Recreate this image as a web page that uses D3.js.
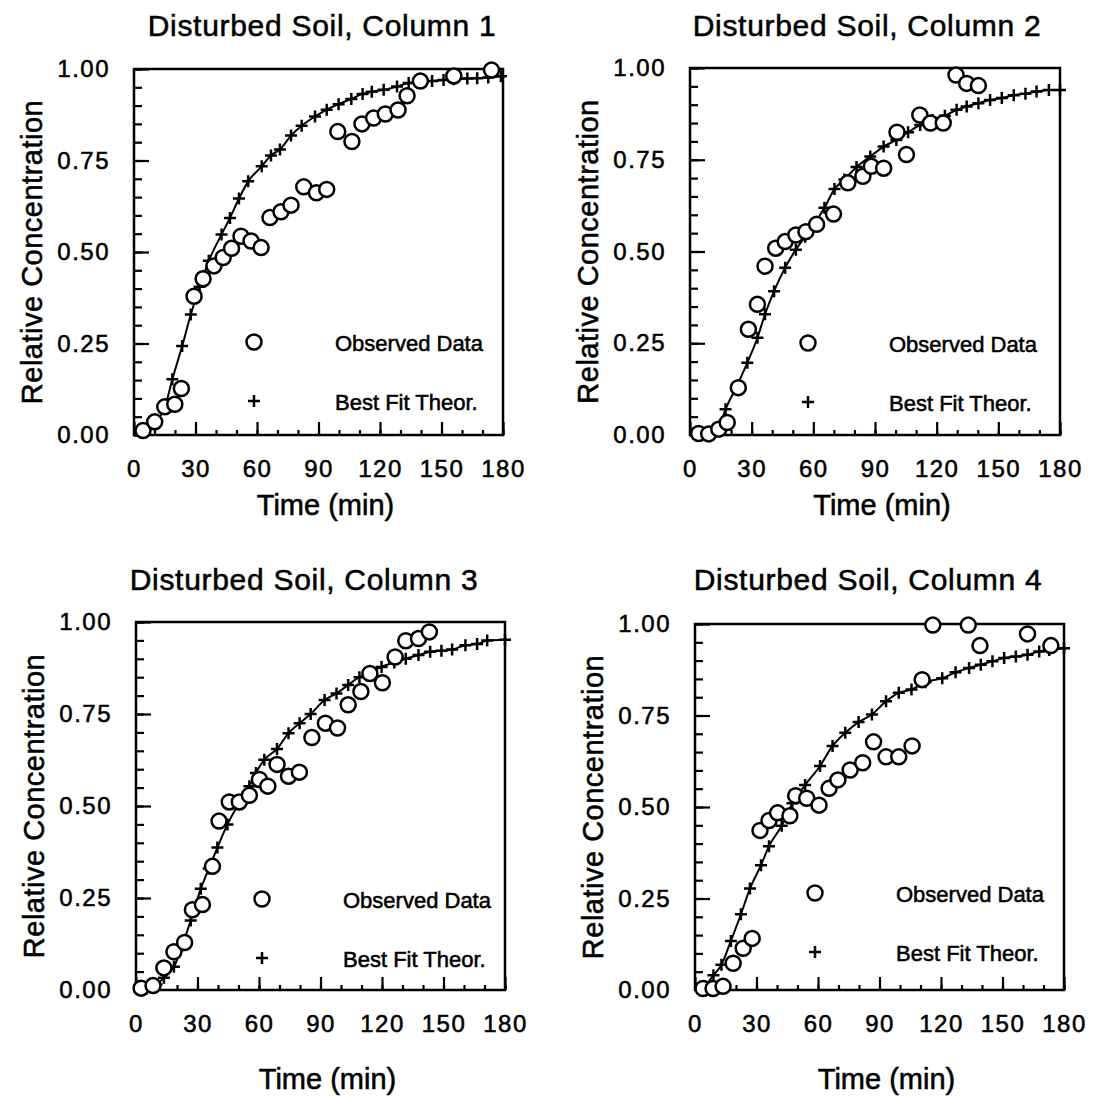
<!DOCTYPE html>
<html>
<head>
<meta charset="utf-8">
<script src="https://cdn.jsdelivr.net/npm/d3@7"></script>
<style>
  body { margin: 0; background: #fff; }
  /* scanned lettering is heavier than plain Liberation Sans */
  svg text { stroke: #000; stroke-width: 0.55px; }
</style>
</head>
<body>
<div id="canvas"></div>
<script>
"use strict"

/* chart data */
let titles = ["Disturbed Soil, Column 1", "Disturbed Soil, Column 2",
              "Disturbed Soil, Column 3", "Disturbed Soil, Column 4"];
let xTicks = [0, 30, 60, 90, 120, 150, 180];
let yTicks = [0, 0.25, 0.5, 0.75, 1];
let legendLabels = ["Observed Data", "Best Fit Theor."];

let obs1Time = [4.4, 10.1, 15, 19.9, 23.1, 29.3, 33.7, 39, 43.5, 47.6, 52.2, 57.1, 62, 66.3, 71.7, 76.6, 82.8, 89, 94, 99.4, 106.3, 111.2, 116.9, 122.6, 128.8, 133.2, 139.7, 156, 174.4];
let obs1Conc = [0.012, 0.036, 0.077, 0.084, 0.127, 0.379, 0.427, 0.462, 0.485, 0.51, 0.543, 0.53, 0.512, 0.594, 0.61, 0.628, 0.678, 0.662, 0.671, 0.829, 0.802, 0.85, 0.866, 0.877, 0.888, 0.927, 0.967, 0.981, 0.997];
let fit1Time = [5, 10, 15, 18.7, 23.5, 27.7, 32, 36.5, 42.7, 46.8, 51.2, 55.7, 62.3, 66.8, 71.2, 76.6, 81.8, 88.3, 94, 99.8, 106, 111.5, 116, 121.8, 128.3, 134, 140, 145.4, 151, 156, 162.6, 167.4, 172.8, 179];
let fit1Conc = [0.01, 0.035, 0.075, 0.152, 0.243, 0.329, 0.405, 0.476, 0.548, 0.593, 0.646, 0.693, 0.734, 0.764, 0.78, 0.818, 0.845, 0.87, 0.889, 0.904, 0.918, 0.932, 0.938, 0.943, 0.952, 0.962, 0.965, 0.967, 0.97, 0.972, 0.974, 0.975, 0.977, 0.98];

let obs2Time = [4.2, 9.1, 14, 18.1, 23.5, 28.4, 32.8, 36.5, 41.7, 46.3, 51.5, 56.4, 61.6, 69.8, 76.8, 84.1, 88.2, 94.2, 100.7, 105.3, 111.8, 117, 123.2, 129.4, 134.6, 140.3];
let obs2Conc = [0.004, 0.003, 0.016, 0.034, 0.129, 0.288, 0.356, 0.46, 0.509, 0.527, 0.545, 0.554, 0.574, 0.602, 0.687, 0.705, 0.732, 0.727, 0.825, 0.764, 0.872, 0.85, 0.85, 0.981, 0.958, 0.952];
let fit2Time = [5, 10, 14, 17.3, 22.5, 27.9, 32.8, 36.5, 40.9, 46.3, 51.5, 56, 60.5, 65.4, 70.3, 75.1, 81, 87.7, 94.2, 100.4, 106.1, 112, 118, 124, 129.7, 134.6, 140.3, 146, 151.7, 157.5, 163.2, 168.6, 174.6, 180];
let fit2Conc = [0, 0.003, 0.02, 0.07, 0.13, 0.197, 0.265, 0.329, 0.392, 0.456, 0.505, 0.54, 0.575, 0.619, 0.67, 0.696, 0.73, 0.759, 0.786, 0.804, 0.825, 0.845, 0.858, 0.87, 0.886, 0.895, 0.904, 0.913, 0.918, 0.926, 0.93, 0.936, 0.94, 0.94];

let obs3Time = [2.5, 8.3, 13.6, 18.5, 23.7, 27.5, 32.4, 37.3, 40.5, 45.5, 50.4, 55.3, 60.2, 64.3, 68.8, 74.4, 79.7, 85.8, 92.4, 98.3, 103.5, 109.7, 114.1, 120.2, 126.4, 131.6, 137.8, 143.1];
let obs3Conc = [0.005, 0.012, 0.06, 0.104, 0.129, 0.218, 0.232, 0.336, 0.459, 0.511, 0.511, 0.529, 0.572, 0.554, 0.613, 0.581, 0.592, 0.686, 0.725, 0.712, 0.775, 0.811, 0.86, 0.835, 0.905, 0.949, 0.955, 0.973];
let fit3Time = [5, 10, 13.6, 18.5, 22.5, 26.7, 31.6, 35.5, 39.7, 44.6, 50, 55.3, 58.5, 62.6, 68.8, 74.4, 79.8, 85.2, 92, 97.8, 103.5, 109, 114, 119.8, 126, 131.6, 137.8, 143.5, 149, 154.2, 160.7, 166.4, 171.3, 180];
let fit3Conc = [0.003, 0.015, 0.033, 0.063, 0.12, 0.189, 0.275, 0.33, 0.387, 0.45, 0.505, 0.554, 0.59, 0.626, 0.655, 0.698, 0.725, 0.75, 0.788, 0.806, 0.829, 0.85, 0.862, 0.878, 0.89, 0.9, 0.91, 0.919, 0.922, 0.925, 0.937, 0.94, 0.95, 0.952];

let obs4Time = [3.9, 8.8, 13.7, 18.6, 23.5, 27.9, 31.7, 36.1, 40.3, 46.3, 49.1, 54.5, 60.5, 65.4, 69.7, 75.7, 81.8, 87.1, 93.2, 99.4, 105.9, 110.8, 116, 133.3, 139, 162.2, 173.6];
let obs4Conc = [0.004, 0.004, 0.01, 0.073, 0.114, 0.141, 0.436, 0.463, 0.484, 0.476, 0.531, 0.524, 0.505, 0.551, 0.574, 0.601, 0.621, 0.678, 0.637, 0.637, 0.667, 0.848, 0.997, 0.997, 0.941, 0.973, 0.941];
let fit4Time = [5, 9, 12.9, 17.5, 22.4, 26.8, 32.2, 36.1, 42.3, 47.5, 53.7, 61, 67.1, 73.3, 79.8, 86.3, 93.2, 99.4, 105.6, 112.4, 120.6, 127.1, 133.7, 139.4, 145.1, 150.8, 156.5, 162.2, 167.9, 172.8, 180];
let fit4Conc = [0.01, 0.04, 0.069, 0.134, 0.207, 0.277, 0.341, 0.393, 0.449, 0.51, 0.56, 0.612, 0.667, 0.703, 0.732, 0.753, 0.789, 0.812, 0.821, 0.841, 0.852, 0.868, 0.88, 0.889, 0.898, 0.907, 0.911, 0.916, 0.925, 0.929, 0.934];

/* layout of the four panels (pixels) */
let panels = [
    {title: titles[0], obsT: obs1Time, obsC: obs1Conc, fitT: fit1Time, fitC: fit1Conc,
     left: 134, right: 503, top: 69, bottom: 435, titleX: 322, titleY: 36, xTitleY: 515, legX: 120, legY: 273},
    {title: titles[1], obsT: obs2Time, obsC: obs2Conc, fitT: fit2Time, fitC: fit2Conc,
     left: 690, right: 1060, top: 68, bottom: 435, titleX: 867, titleY: 36, xTitleY: 515, legX: 118, legY: 275},
    {title: titles[2], obsT: obs3Time, obsC: obs3Conc, fitT: fit3Time, fitC: fit3Conc,
     left: 136, right: 505, top: 622, bottom: 990, titleX: 304, titleY: 590, xTitleY: 1089, legX: 126, legY: 277},
    {title: titles[3], obsT: obs4Time, obsC: obs4Conc, fitT: fit4Time, fitC: fit4Conc,
     left: 695, right: 1064, top: 624, bottom: 990, titleX: 868, titleY: 590, xTitleY: 1089, legX: 120, legY: 269}
];

let fontStack = "'Liberation Sans', Arial, Helvetica, sans-serif";

let drawing = d3.select("#canvas")
    .append("svg")
    .attr("width", 1095)
    .attr("height", 1097)
    .style("background", "#fff");

let plusPath = "M-6,0H6M0,-6V6";

panels.forEach(function (p) {
    let x = d3.scaleLinear().domain([0, 180]).range([p.left, p.right]);
    let y = d3.scaleLinear().domain([0, 1]).range([p.bottom, p.top]);
    let g = drawing.append("g");

    // minor ticks first, then major ticks with labels
    g.append("g")
        .attr("transform", `translate(${p.left},0)`)
        .call(d3.axisLeft(y).tickValues(y.ticks(20)).tickSize(-8).tickFormat(""))
        .call(a => a.select(".domain").remove());
    g.append("g")
        .attr("transform", `translate(0,${p.bottom})`)
        .call(d3.axisBottom(x).tickValues(x.ticks(18)).tickSize(-5).tickFormat(""))
        .call(a => a.select(".domain").remove());

    let yAxis = g.append("g")
        .attr("transform", `translate(${p.left},0)`)
        .call(d3.axisLeft(y).tickValues(yTicks).tickSize(-15).tickPadding(24).tickFormat(d3.format(".2f")))
        .call(a => a.select(".domain").remove());
    let xAxis = g.append("g")
        .attr("transform", `translate(0,${p.bottom})`)
        .call(d3.axisBottom(x).tickValues(xTicks).tickSize(-13).tickPadding(25).tickFormat(d3.format("d")))
        .call(a => a.select(".domain").remove());

    g.selectAll(".tick line").attr("stroke", "#000").attr("stroke-width", 2.2);
    [yAxis, xAxis].forEach(function (a) {
        a.attr("font-family", fontStack).attr("font-size", 24);
        a.selectAll("text").attr("fill", "#000").attr("letter-spacing", 1.5);
    });

    // frame
    g.append("rect")
        .attr("x", p.left).attr("y", p.top)
        .attr("width", p.right - p.left).attr("height", p.bottom - p.top)
        .attr("fill", "none")
        .attr("stroke", "#000")
        .attr("stroke-width", 2.5);

    // best fit line and its + markers
    let fitPts = p.fitT.map((t, i) => [t, p.fitC[i]]);
    let line = d3.line().x(d => x(d[0])).y(d => y(d[1])).curve(d3.curveMonotoneX);
    g.append("path")
        .attr("d", line(fitPts))
        .attr("fill", "none")
        .attr("stroke", "#000")
        .attr("stroke-width", 2);
    g.selectAll(".plus").data(fitPts).enter().append("path")
        .attr("transform", d => `translate(${x(d[0])},${y(d[1])})`)
        .attr("d", plusPath)
        .attr("stroke", "#000")
        .attr("stroke-width", 2.5);

    // observed data circles
    let obsPts = p.obsT.map((t, i) => [t, p.obsC[i]]);
    g.selectAll(".obs").data(obsPts).enter().append("circle")
        .attr("cx", d => x(d[0]))
        .attr("cy", d => y(d[1]))
        .attr("r", 7.5)
        .attr("fill", "#fff")
        .attr("stroke", "#000")
        .attr("stroke-width", 2.5);

    // legend
    let lx = p.left + p.legX, ly = p.top + p.legY;
    g.append("circle")
        .attr("cx", lx).attr("cy", ly).attr("r", 7.5)
        .attr("fill", "#fff").attr("stroke", "#000").attr("stroke-width", 2.5);
    g.append("path")
        .attr("transform", `translate(${lx},${ly + 59})`)
        .attr("d", plusPath)
        .attr("stroke", "#000").attr("stroke-width", 2.5);
    legendLabels.forEach(function (label, i) {
        g.append("text")
            .attr("x", lx + 81).attr("y", ly + 9 + i * 59)
            .attr("font-family", fontStack).attr("font-size", 22)
            .text(label);
    });

    // titles
    g.append("text")
        .attr("x", p.titleX).attr("y", p.titleY)
        .attr("text-anchor", "middle")
        .attr("font-family", fontStack).attr("font-size", 30).attr("letter-spacing", 0.7)
        .text(p.title);
    g.append("text")
        .attr("x", (p.left + p.right) / 2 + 7).attr("y", p.xTitleY)
        .attr("text-anchor", "middle")
        .attr("font-family", fontStack).attr("font-size", 29)
        .text("Time (min)");
    g.append("text")
        .attr("transform", `translate(${p.left - 92},${(p.top + p.bottom) / 2}) rotate(-90)`)
        .attr("text-anchor", "middle")
        .attr("font-family", fontStack).attr("font-size", 29).attr("letter-spacing", 0.5)
        .text("Relative Concentration");
});
</script>
</body>
</html>
